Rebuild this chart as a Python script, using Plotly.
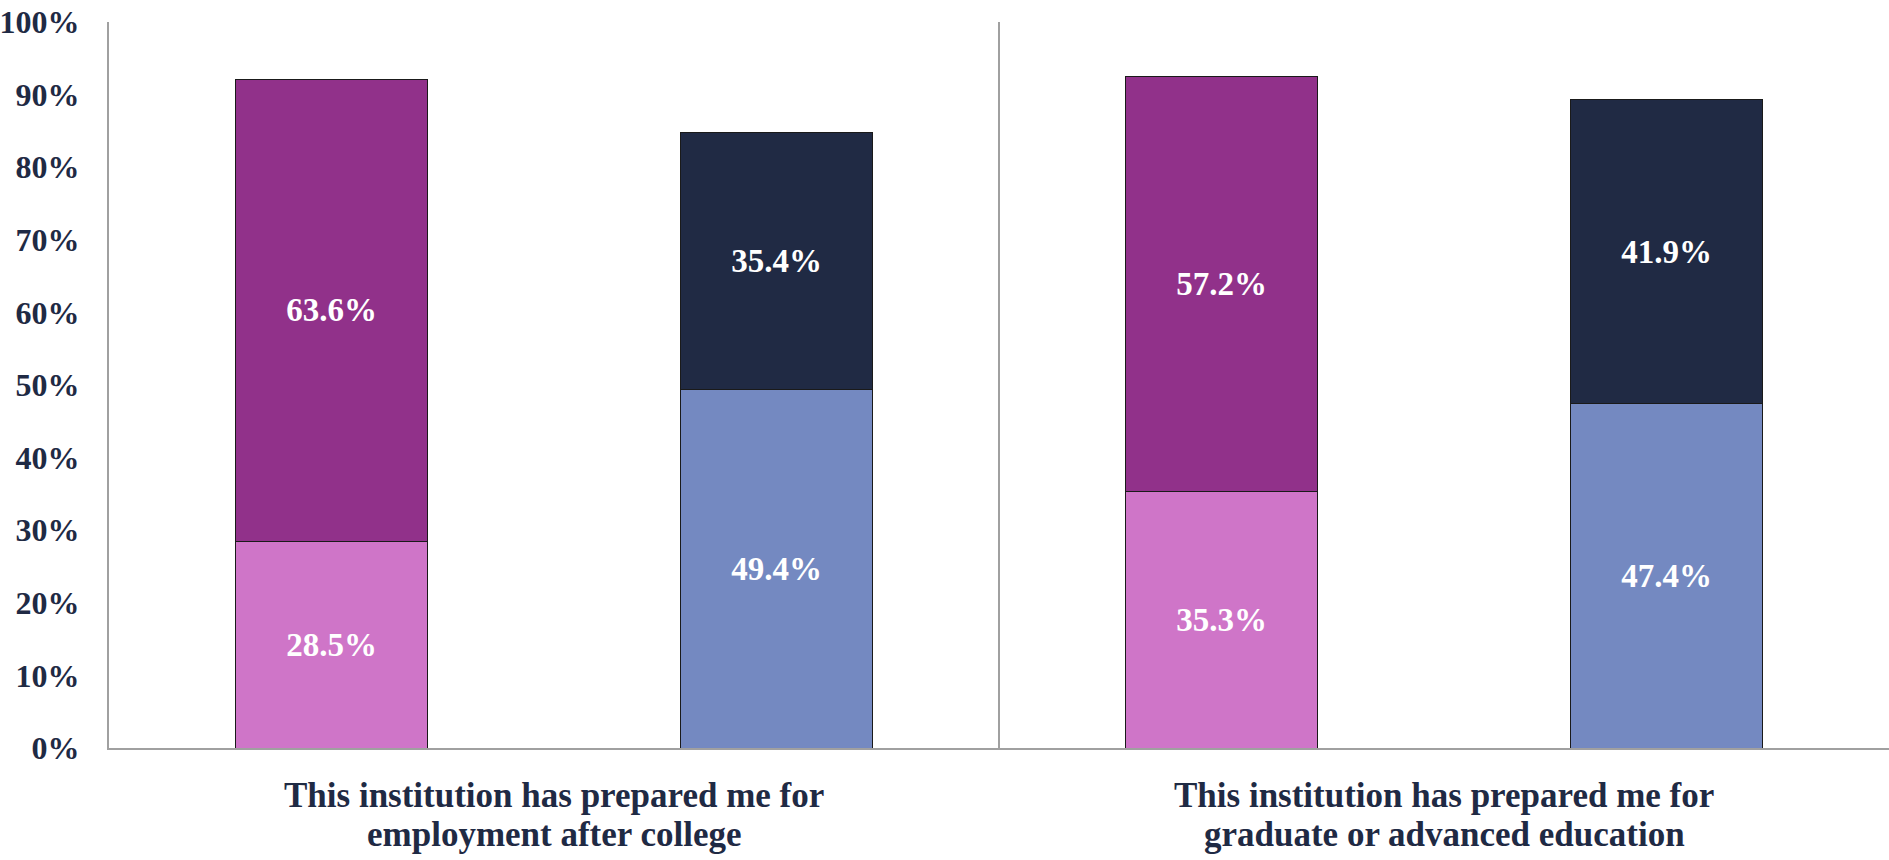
import plotly.graph_objects as go

# chart data
bars = ["b1", "b2", "b3", "b4"]
group_labels = [
    ["This institution has prepared me for", "employment after college"],
    ["This institution has prepared me for", "graduate or advanced education"],
]
lower_values = [28.5, 49.4, 35.3, 47.4]
upper_values = [63.6, 35.4, 57.2, 41.9]
lower_colors = ["#CF75C8", "#7489C1", "#CF75C8", "#7489C1"]
upper_colors = ["#91318A", "#202A44", "#91318A", "#202A44"]
y_ticks = [0, 10, 20, 30, 40, 50, 60, 70, 80, 90, 100]
y_tick_text = [f"{t}%" for t in y_ticks]

NAVY = "#1F2A44"
FONT = "Liberation Serif"

fig = go.Figure()
for vals, cols in [(lower_values, lower_colors), (upper_values, upper_colors)]:
    fig.add_trace(go.Bar(
        x=bars, y=vals,
        marker=dict(color=cols, line=dict(color="#1a1a1a", width=1)),
        width=0.43,
        text=[f"{v:.1f}%" for v in vals],
        textposition="inside",
        insidetextanchor="middle",
        textangle=0,
        textfont=dict(family=FONT, size=33, color="white", weight="bold"),
        hoverinfo="skip",
    ))

# divider between the two groups
fig.add_shape(type="line", xref="x", yref="paper", x0=1.5, x1=1.5, y0=0, y1=1,
              line=dict(color="#A0A0A0", width=2))

# category labels, one annotation per line to keep the spacing tight
for i, lines in enumerate(group_labels):
    for j, line in enumerate(lines):
        fig.add_annotation(
            x=0.5 + 2 * i, xref="x", y=0, yref="paper", yshift=-26 - 39 * j,
            text=f"<b>{line}</b>", showarrow=False, yanchor="top",
            font=dict(family=FONT, size=35, color=NAVY),
        )

fig.update_layout(
    barmode="stack",
    width=1889, height=860,
    margin=dict(l=109, r=0, t=22, b=112),
    plot_bgcolor="white", paper_bgcolor="white",
    showlegend=False,
    xaxis=dict(showticklabels=False, showline=True, linecolor="#A0A0A0", linewidth=2,
               range=[-0.5, 3.5], fixedrange=True, automargin=False),
    yaxis=dict(range=[0, 100], tickmode="array", tickvals=y_ticks, ticktext=y_tick_text,
               showgrid=False, showline=True, linecolor="#A0A0A0", linewidth=2,
               zeroline=False, ticklabelstandoff=21, ticklabeloverflow="allow",
               automargin=False,
               tickfont=dict(family=FONT, size=32, color=NAVY, weight="bold")),
)

# drop the default body margin so the figure fills the window exactly
fig.write_html("out.html", config={"displayModeBar": False},
               post_script="document.body.style.margin = '0';")
